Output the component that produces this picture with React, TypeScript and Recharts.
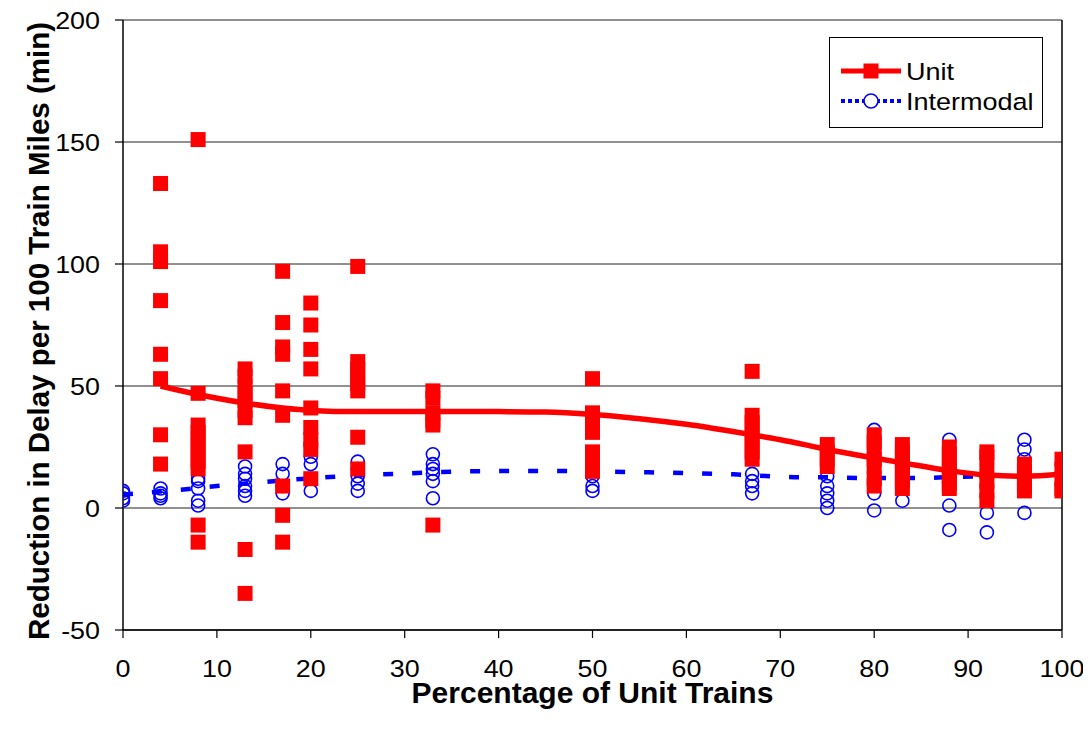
import React from "react";
import {
  ComposedChart,
  Scatter,
  Line,
  XAxis,
  YAxis,
  CartesianGrid,
  ReferenceLine,
  Legend,
} from "recharts";

// Percentage of unit trains (x columns)
const percentUnit = [0, 4, 8, 13, 17, 20, 25, 33, 50, 67, 75, 80, 83, 88, 92, 96, 100];

// Unit trains: reduction in delay per column
const unitDelay: number[][] = [
  [],
  [133, 105, 101, 85, 63, 53, 30, 18],
  [151, 47, 34, 31, 28, 25, 22, 19, 16, -7, -14],
  [57, 54, 50, 47, 44, 40, 37, 23, -17, -35],
  [97, 76, 66, 63, 48, 38, 9, -3, -14],
  [84, 75, 65, 57, 41, 33, 28, 24, 12],
  [99, 60, 57, 54, 51, 48, 29, 16],
  [48, 45, 39, 36, 34, -7],
  [53, 39, 35, 31, 23, 19, 15],
  [56, 38, 35, 32, 29, 26, 23, 20],
  [26, 23, 20, 17],
  [30, 27, 24, 20, 17, 12, 9],
  [26, 23, 20, 17, 14, 11, 8],
  [25, 22, 19, 16, 13, 10, 8],
  [23, 21, 15, 11, 7, 3],
  [18, 15, 12, 9, 7],
  [20, 16, 12, 8, 7],
];

// Intermodal trains: reduction in delay per column
const intermodalDelay: number[][] = [
  [7, 6, 4, 3],
  [8, 6, 5, 4],
  [12, 11, 8, 3, 1],
  [17, 14, 12, 9, 7, 5],
  [18, 14, 9, 6],
  [21, 18, 12, 7],
  [19, 16, 13, 10, 7],
  [22, 18, 16, 14, 11, 4],
  [13, 9, 7],
  [14, 11, 9, 6],
  [13, 9, 6, 3, 0],
  [32, 28, 13, 10, 6, -1],
  [20, 16, 3],
  [28, 20, 1, -9],
  [20, -2, -10],
  [28, 24, 20, -2],
  [],
];

// Trend lines
const unitTrendX = [4, 8, 13, 17, 20, 25, 30, 33, 40, 45, 50, 55, 60, 67, 70, 75, 80, 83, 88, 92, 96, 100];
const unitTrendY = [50, 46.5, 43, 41, 40, 39.5, 39.5, 39.6, 39.5, 39.3, 38.3, 36.6, 34.3, 30, 28, 24, 20.5, 18.5, 15.3, 13.5, 13, 13.8];

const intermodalTrendX = [0, 4, 7, 10, 13, 16, 19, 22, 25, 29, 33, 38, 45, 50, 55, 60, 65, 69, 72, 75, 79, 82, 85, 88, 91, 94, 96];
const intermodalTrendY = [5.5, 6.8, 7.8, 9, 10, 11, 11.9, 12.7, 13.3, 14, 14.6, 15.1, 15.2, 15, 14.7, 14.3, 13.8, 13, 12.6, 12.6, 12.3, 12.3, 12.3, 12.7, 13, 13.5, 13.8];

const xTicks = [0, 10, 20, 30, 40, 50, 60, 70, 80, 90, 100];
const yTicks = [-50, 0, 50, 100, 150, 200];

const RED = "#FF0000";
const BLUE = "#0000FF";
const FONT = "Arial, 'Liberation Sans', sans-serif";
const STRETCH = 1.12;

const toPoints = (cols: number[][]) =>
  cols.flatMap((vals, i) => vals.map((y) => ({ x: percentUnit[i], y })));

const unitPoints = toPoints(unitDelay);
const intermodalPoints = toPoints(intermodalDelay);
const unitTrend = unitTrendX.map((x, i) => ({ x, y: unitTrendY[i] }));
const intermodalTrend = intermodalTrendX.map((x, i) => ({ x, y: intermodalTrendY[i] }));

const SquareShape = (props: any) => {
  const { cx, cy } = props;
  if (cx == null || cy == null) return null;
  return <rect x={cx - 7.5} y={cy - 7.5} width={15} height={15} fill={RED} />;
};

const CircleShape = (props: any) => {
  const { cx, cy } = props;
  if (cx == null || cy == null) return null;
  return <circle cx={cx} cy={cy} r={6.5} fill="none" stroke={BLUE} strokeWidth={1.6} />;
};

const XTick = (props: any) => {
  const { x, y, payload } = props;
  return (
    <g transform={`translate(${x}, ${y}) scale(${STRETCH}, 1)`}>
      <text x={0} y={0} dy="0.71em" textAnchor="middle" fontFamily={FONT} fontSize={24} fill="#000">
        {payload.value}
      </text>
    </g>
  );
};

const YTick = (props: any) => {
  const { x, y, payload } = props;
  return (
    <g transform={`translate(${x}, ${y}) scale(${STRETCH}, 1)`}>
      <text x={0} y={0} dy="0.355em" textAnchor="end" fontFamily={FONT} fontSize={24} fill="#000">
        {payload.value}
      </text>
    </g>
  );
};

const renderYLabel = (props: any) => {
  const vb = props.viewBox || {};
  const x = (vb.x ?? 0) + 41;
  const y = (vb.y ?? 0) + (vb.height ?? 0) / 2 + 6;
  return (
    <text
      x={x}
      y={y}
      transform={`rotate(-90, ${x}, ${y})`}
      textAnchor="middle"
      fontFamily={FONT}
      fontWeight="bold"
      fontSize={29.5}
      fill="#000"
    >
      Reduction in Delay per 100 Train Miles (min)
    </text>
  );
};

const renderXLabel = (props: any) => {
  const vb = props.viewBox || {};
  const x = (vb.x ?? 0) + (vb.width ?? 0) / 2;
  const y = (vb.y ?? 0) + 73;
  return (
    <text x={x} y={y} textAnchor="middle" fontFamily={FONT} fontWeight="bold" fontSize={30} fill="#000">
      Percentage of Unit Trains
    </text>
  );
};

const LegendBox = () => (
  <div
    style={{
      width: 214,
      height: 91,
      border: "1.5px solid #000",
      background: "#fff",
      boxSizing: "border-box",
    }}
  >
    <svg width={211} height={88} style={{ display: "block" }}>
      <line x1={11} y1={33} x2={71} y2={33} stroke={RED} strokeWidth={5} />
      <rect x={33.5} y={25.5} width={15} height={15} fill={RED} />
      <g transform={`translate(76, 42) scale(1.15, 1)`}>
        <text x={0} y={0} fontFamily={FONT} fontSize={23.5} fill="#000">Unit</text>
      </g>
      <line x1={11} y1={63} x2={71} y2={63} stroke={BLUE} strokeWidth={4} strokeDasharray="4 3" />
      <circle cx={41} cy={63} r={7} fill="#fff" stroke={BLUE} strokeWidth={1.6} />
      <g transform={`translate(76, 72) scale(1.15, 1)`}>
        <text x={0} y={0} fontFamily={FONT} fontSize={23.5} fill="#000">Intermodal</text>
      </g>
    </svg>
  </div>
);

export default function App() {
  return (
    <div style={{ width: 1075, height: 722, overflow: "visible" }}>
      <style>{`.recharts-surface { overflow: visible; }`}</style>
      <ComposedChart
        width={1075}
        height={722}
        margin={{ top: 12, right: 21, left: 0, bottom: 0 }}
        style={{ background: "#fff", overflow: "visible" }}
      >
        <CartesianGrid horizontal={true} vertical={false} stroke="#222" strokeWidth={1} />
        <XAxis
          type="number"
          dataKey="x"
          domain={[0, 100]}
          ticks={xTicks}
          interval={0}
          height={100}
          tickSize={8}
          tickMargin={22}
          axisLine={{ stroke: "#000", strokeWidth: 1.5 }}
          tickLine={{ stroke: "#000", strokeWidth: 1.2 }}
          tick={<XTick />}
          label={renderXLabel}
          allowDataOverflow
        />
        <YAxis
          type="number"
          dataKey="y"
          domain={[-50, 200]}
          ticks={yTicks}
          interval={0}
          width={115}
          tickSize={8}
          tickMargin={15}
          axisLine={{ stroke: "#000", strokeWidth: 1.5 }}
          tickLine={{ stroke: "#000", strokeWidth: 1.2 }}
          tick={<YTick />}
          label={renderYLabel}
          allowDataOverflow
        />
        <ReferenceLine x={100} stroke="#000" strokeWidth={1.5} ifOverflow="visible" />
        <Scatter
          name="Intermodal"
          data={intermodalPoints}
          dataKey="y"
          shape={CircleShape}
          isAnimationActive={false}
          legendType="none"
        />
        <Scatter
          name="Unit"
          data={unitPoints}
          dataKey="y"
          shape={SquareShape}
          isAnimationActive={false}
          legendType="none"
        />
        <Line
          data={intermodalTrend}
          dataKey="y"
          type="monotone"
          stroke={BLUE}
          strokeWidth={4.5}
          strokeDasharray="10 19"
          dot={false}
          activeDot={false}
          isAnimationActive={false}
          legendType="none"
        />
        <Line
          data={unitTrend}
          dataKey="y"
          type="monotone"
          stroke={RED}
          strokeWidth={5.5}
          dot={false}
          activeDot={false}
          isAnimationActive={false}
          legendType="none"
        />
        <Legend
          layout="vertical"
          align="center"
          verticalAlign="middle"
          content={() => <LegendBox />}
          wrapperStyle={{ position: "absolute", left: 821, top: 29, width: 214, height: 91 }}
        />
      </ComposedChart>
    </div>
  );
}
